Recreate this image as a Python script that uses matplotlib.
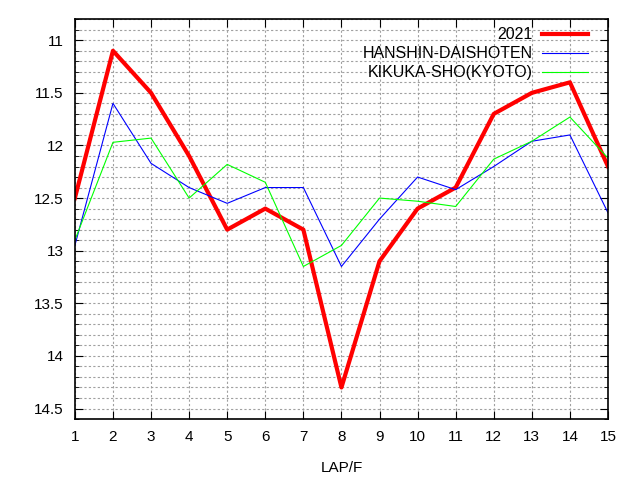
import matplotlib
matplotlib.use('Agg')
import matplotlib.pyplot as plt
from matplotlib.ticker import MultipleLocator

laps = list(range(1, 16))
y2021 = [12.5, 11.1, 11.5, 12.1, 12.8, 12.6, 12.8, 14.3, 13.1, 12.6, 12.4, 11.7, 11.5, 11.4, 12.2]
hanshin = [12.95, 11.6, 12.17, 12.4, 12.55, 12.4, 12.4, 13.15, 12.7, 12.3, 12.42, 12.2, 11.96, 11.9, 12.64]
kikuka = [12.9, 11.97, 11.93, 12.5, 12.18, 12.35, 13.15, 12.95, 12.5, 12.53, 12.58, 12.13, 11.96, 11.73, 12.12]

plt.rcParams['font.family'] = ['Liberation Sans', 'DejaVu Sans']
fig = plt.figure(figsize=(6.4, 4.8), dpi=100)
ax = fig.add_axes([0.117, 0.127, 0.833, 0.833])

ax.plot(laps, y2021, color='#ff0000', lw=3, label='2021')
ax.plot(laps, hanshin, color='#0000ff', lw=0.8, label='HANSHIN-DAISHOTEN')
ax.plot(laps, kikuka, color='#00ff00', lw=0.8, label='KIKUKA-SHO(KYOTO)')

ax.set_xlim(1, 15)
ax.set_ylim(14.6, 10.8)
ax.set_xticks(laps)
ax.yaxis.set_minor_locator(MultipleLocator(0.1))
ax.set_yticks([11, 11.5, 12, 12.5, 13, 13.5, 14, 14.5])
ax.set_yticklabels(['11', '11.5', '12', '12.5', '13', '13.5', '14', '14.5'])
ax.tick_params(direction='in', top=True, right=True, labelsize=11, length=6, pad=8)
ax.tick_params(which='minor', direction='in', right=True, length=3)
ax.grid(True, which='both', color='#a0a0a0', ls=(0, (2, 2)), lw=0.8)
ax.set_axisbelow(True)
for s in ax.spines.values():
    s.set_linewidth(1.2)
ax.set_xlabel('LAP/F', fontsize=11, labelpad=12)

leg = ax.legend(loc='upper right', bbox_to_anchor=(0.993, 1.02), frameon=False,
                markerfirst=False, fontsize=11.5, handlelength=2.9, handletextpad=0.6,
                borderaxespad=0.7, borderpad=0.3, labelspacing=0.25)
for t in leg.get_texts():
    t.set_ha('right')

fig.savefig('out.png')
